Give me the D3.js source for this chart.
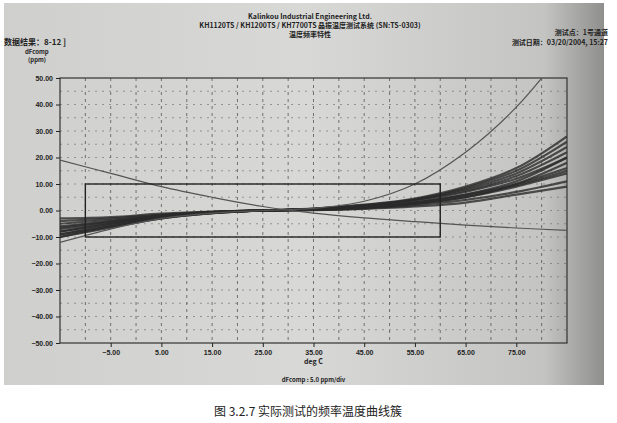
<!DOCTYPE html>
<html><head><meta charset="utf-8">
<script src="https://cdn.jsdelivr.net/npm/d3@7"></script>
<style>
body{margin:0;background:#fff;font-family:"Liberation Sans",Arial,sans-serif}
.ax text{font-size:7px;font-weight:bold;fill:#222}
.ax path,.ax line{stroke:#222}
</style></head><body>
<svg id="c" width="617" height="423"></svg>
<script>
const temps = [-15, -5, 5, 15, 25, 35, 45, 55, 65, 75, 85]
const clusterCurves = [
  [-10, -6, -3, -1, 0, 0.5, 1.5, 3, 6, 10, 16],
  [-8, -5, -2.5, -1, 0, 0.3, 1, 2.5, 5, 9, 14],
  [-6, -4, -2, -0.8, 0, 0.2, 0.8, 2, 4, 7, 11],
  [-4, -3, -1.5, -0.5, 0, 0.2, 1, 2.5, 5, 10, 18],
  [-9, -5.5, -2.5, -0.8, 0, 0.6, 2, 4, 8, 14, 24],
  [-7, -4.5, -2, -0.6, 0, 0.5, 1.8, 4, 7.5, 13, 22],
  [-5, -3.5, -1.8, -0.6, 0, 0.4, 1.3, 3, 6, 11, 20],
  [-3, -2.5, -1.2, -0.4, 0, 0.1, 0.6, 1.5, 3, 6, 9],
  [-10, -6.5, -3, -1, 0, 0.7, 2.2, 4.5, 9, 16, 28],
  [-8, -5, -2.2, -0.7, 0, 0.5, 1.6, 3.5, 7, 12, 20],
  [-9, -6, -2.8, -0.9, 0, 0.4, 1.2, 2.8, 5.5, 9.5, 15],
  [-6.5, -4.2, -2, -0.7, 0, 0.6, 2, 4.2, 8.5, 15, 26]
]
const steepCurve = [-12, -7, -3, -1, 0, 0.8, 3.5, 10, 22, 39, 62]
const fallingCurve = [19, 14, 9, 5, 1.5, -1, -2.8, -4.2, -5.5, -6.6, -7.5]
const boxT = [-10, 60]
const boxPpm = [-10, 10]
const xTicks = [-5, 5, 15, 25, 35, 45, 55, 65, 75]
const yTicks = [50, 40, 30, 20, 10, 0, -10, -20, -30, -40, -50]

const svg = d3.select('#c')
const defs = svg.append('defs')
const grad = defs.append('linearGradient').attr('id', 'bg').attr('x1', 0).attr('x2', 1)
grad.append('stop').attr('offset', 0).attr('stop-color', '#cfcfcd')
grad.append('stop').attr('offset', 0.5).attr('stop-color', '#d8d8d6')
grad.append('stop').attr('offset', 0.9).attr('stop-color', '#c4c4c2')
grad.append('stop').attr('offset', 1).attr('stop-color', '#8f8f8d')
svg.append('rect').attr('x', 4).attr('y', 3).attr('width', 600).attr('height', 382).attr('fill', 'url(#bg)')

const L = 60, R = 567, T = 78, B = 343
const x = d3.scaleLinear().domain([-15, 85]).range([L, R])
const y = d3.scaleLinear().domain([-50, 50]).range([B, T])

const g = svg.append('g')
defs.append('clipPath').attr('id', 'clip').append('rect')
  .attr('x', L).attr('y', T).attr('width', R - L).attr('height', B - T)

g.selectAll('.vg').data(d3.range(-10, 85, 5)).enter().append('line')
  .attr('x1', d => x(d)).attr('x2', d => x(d)).attr('y1', T).attr('y2', B)
  .attr('stroke', '#555').attr('stroke-width', 0.8).attr('stroke-dasharray', '3,4')
g.selectAll('.hg').data(d3.range(-45, 50, 5)).enter().append('line')
  .attr('x1', L).attr('x2', R).attr('y1', d => y(d)).attr('y2', d => y(d))
  .attr('stroke', '#666').attr('stroke-width', 0.6).attr('stroke-dasharray', '2,5')
g.append('rect').attr('x', L).attr('y', T).attr('width', R - L).attr('height', B - T)
  .attr('fill', 'none').attr('stroke', '#333').attr('stroke-width', 1.2)

g.append('g').attr('class', 'ax').attr('transform', `translate(0,${B})`)
  .call(d3.axisBottom(x).tickValues(xTicks).tickFormat(d3.format('.2f')).tickSize(4))
  .call(s => s.select('.domain').remove())
g.append('g').attr('class', 'ax').attr('transform', `translate(${L},0)`)
  .call(d3.axisLeft(y).tickValues(yTicks).tickFormat(d3.format('.2f')).tickSize(4))
  .call(s => s.select('.domain').remove())

const line = d3.line().x((d, i) => x(temps[i])).y(d => y(d)).curve(d3.curveCatmullRom)
const cg = g.append('g').attr('clip-path', 'url(#clip)')
cg.selectAll('.cl').data(clusterCurves).enter().append('path')
  .attr('d', line).attr('fill', 'none').attr('stroke', '#2a2a2a').attr('stroke-width', 2.2).attr('opacity', 0.8)
cg.append('path').datum(steepCurve).attr('d', line).attr('fill', 'none').attr('stroke', '#555').attr('stroke-width', 1.2)
cg.append('path').datum(fallingCurve).attr('d', line).attr('fill', 'none').attr('stroke', '#555').attr('stroke-width', 1.2)
cg.append('rect').attr('x', x(boxT[0])).attr('y', y(boxPpm[1]))
  .attr('width', x(boxT[1]) - x(boxT[0])).attr('height', y(boxPpm[0]) - y(boxPpm[1]))
  .attr('fill', 'none').attr('stroke', '#222').attr('stroke-width', 1.4)

const txt = (tx, ty, s, sz, anchor) => svg.append('text').attr('x', tx).attr('y', ty)
  .attr('font-size', sz).attr('font-weight', 'bold').attr('fill', '#222')
  .attr('text-anchor', anchor || 'middle').attr('font-family', '"Noto Sans CJK SC",sans-serif').text(s)
txt(310, 19, 'Kalinkou Industrial Engineering Ltd.', 7)
txt(310, 28, 'KH1120TS / KH1200TS / KH7700TS 晶振温度测试系统 (SN:TS-0303)', 7)
txt(310, 37, '温度频率特性', 7)
txt(4, 45, '数据结果：8-12 ]', 8, 'start')
txt(608, 35, '测试点：1号通道', 7, 'end')
txt(608, 45, '测试日期：03/20/2004, 15:27', 7, 'end')
txt(25, 54, 'dFcomp', 6, 'start')
txt(28, 62, '(ppm)', 6, 'start')
txt(x(35), 364, 'deg C', 7)
txt(x(35), 382, 'dFcomp  :  5.0 ppm/div', 6)
svg.append('text').attr('x', 308).attr('y', 416).attr('text-anchor', 'middle')
  .attr('font-size', 12).attr('fill', '#222').attr('font-family', '"Noto Sans CJK SC",sans-serif')
  .text('图 3.2.7 实际测试的频率温度曲线簇')
</script></body></html>
